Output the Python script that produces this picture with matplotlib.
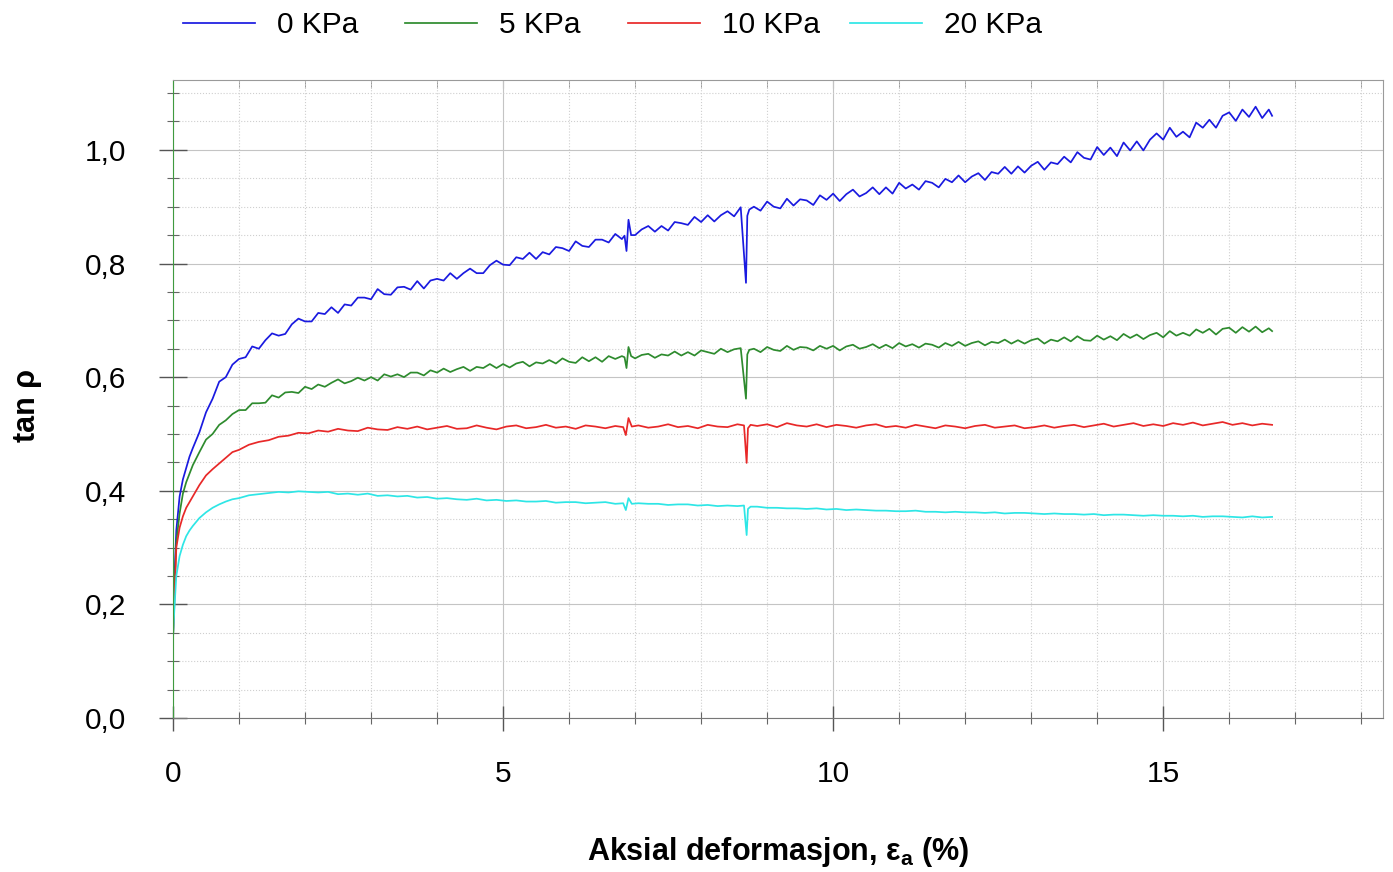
import matplotlib.pyplot as plt
from matplotlib.ticker import MultipleLocator, FuncFormatter

plt.rcParams['font.family'] = ['Liberation Sans', 'DejaVu Sans']

# aksial deformasjon (%) - dense logging used for the 0 and 5 KPa tests
strain_fine = [
    0, 0.02, 0.05, 0.1, 0.15, 0.2, 0.25, 0.3, 0.4, 0.5, 0.6, 0.7, 0.8, 0.9,
    1.0, 1.1, 1.2, 1.3, 1.4, 1.5, 1.6, 1.7, 1.8, 1.9,
    2.0, 2.1, 2.2, 2.3, 2.4, 2.5, 2.6, 2.7, 2.8, 2.9,
    3.0, 3.1, 3.2, 3.3, 3.4, 3.5, 3.6, 3.7, 3.8, 3.9,
    4.0, 4.1, 4.2, 4.3, 4.4, 4.5, 4.6, 4.7, 4.8, 4.9,
    5.0, 5.1, 5.2, 5.3, 5.4, 5.5, 5.6, 5.7, 5.8, 5.9,
    6.0, 6.1, 6.2, 6.3, 6.4, 6.5, 6.6, 6.7, 6.8,
    6.84, 6.87, 6.9, 6.94,
    7.0, 7.1, 7.2, 7.3, 7.4, 7.5, 7.6, 7.7, 7.8, 7.9, 8.0, 8.1, 8.2, 8.3, 8.4, 8.5, 8.6,
    8.68, 8.7, 8.73,
    8.8, 8.9, 9.0, 9.1, 9.2, 9.3, 9.4, 9.5, 9.6, 9.7, 9.8, 9.9,
    10.0, 10.1, 10.2, 10.3, 10.4, 10.5, 10.6, 10.7, 10.8, 10.9,
    11.0, 11.1, 11.2, 11.3, 11.4, 11.5, 11.6, 11.7, 11.8, 11.9,
    12.0, 12.1, 12.2, 12.3, 12.4, 12.5, 12.6, 12.7, 12.8, 12.9,
    13.0, 13.1, 13.2, 13.3, 13.4, 13.5, 13.6, 13.7, 13.8, 13.9,
    14.0, 14.1, 14.2, 14.3, 14.4, 14.5, 14.6, 14.7, 14.8, 14.9,
    15.0, 15.1, 15.2, 15.3, 15.4, 15.5, 15.6, 15.7, 15.8, 15.9,
    16.0, 16.1, 16.2, 16.3, 16.4, 16.5, 16.6, 16.65,
]

# coarser logging for the 10 and 20 KPa tests
strain = [
    0, 0.02, 0.05, 0.1, 0.15, 0.2, 0.25, 0.3, 0.4, 0.5, 0.6, 0.7, 0.8, 0.9,
    1.0, 1.15, 1.3, 1.45, 1.6, 1.75, 1.9, 2.05, 2.2, 2.35,
    2.5, 2.65, 2.8, 2.95, 3.1, 3.25, 3.4, 3.55, 3.7, 3.85,
    4.0, 4.15, 4.3, 4.45, 4.6, 4.75, 4.9, 5.05, 5.2, 5.35,
    5.5, 5.65, 5.8, 5.95, 6.1, 6.25, 6.4, 6.55, 6.7,
    6.82, 6.86, 6.9, 6.95,
    7.05, 7.2, 7.35, 7.5, 7.65, 7.8, 7.95, 8.1, 8.25, 8.4, 8.55, 8.65,
    8.69, 8.71, 8.75,
    8.85, 9.0, 9.15, 9.3, 9.45, 9.6, 9.75, 9.9, 10.05, 10.2,
    10.35, 10.5, 10.65, 10.8, 10.95, 11.1, 11.25, 11.4, 11.55, 11.7,
    11.85, 12.0, 12.15, 12.3, 12.45, 12.6, 12.75, 12.9, 13.05, 13.2,
    13.35, 13.5, 13.65, 13.8, 13.95, 14.1, 14.25, 14.4, 14.55, 14.7,
    14.85, 15.0, 15.15, 15.3, 15.45, 15.6, 15.75, 15.9, 16.05, 16.2,
    16.35, 16.5, 16.65,
]

tan_0kpa = [
    0.14, 0.24, 0.33, 0.39, 0.42, 0.44, 0.46, 0.475, 0.503, 0.538, 0.562, 0.592, 0.600, 0.622,
    0.632, 0.635, 0.654, 0.650, 0.665, 0.677, 0.673, 0.676, 0.693, 0.703,
    0.698, 0.698, 0.713, 0.711, 0.723, 0.713, 0.728, 0.726, 0.740, 0.740,
    0.737, 0.755, 0.746, 0.745, 0.758, 0.759, 0.754, 0.769, 0.756, 0.770,
    0.773, 0.770, 0.783, 0.773, 0.783, 0.791, 0.783, 0.783, 0.797, 0.805,
    0.798, 0.797, 0.811, 0.808, 0.819, 0.808, 0.820, 0.816, 0.829, 0.827,
    0.822, 0.839, 0.831, 0.829, 0.842, 0.842, 0.837, 0.852, 0.843,
    0.849, 0.822, 0.877, 0.850,
    0.850, 0.860, 0.866, 0.856, 0.866, 0.858, 0.873, 0.871, 0.868, 0.882,
    0.873, 0.885, 0.874, 0.885, 0.892, 0.883, 0.899,
    0.766, 0.884, 0.895,
    0.900, 0.893, 0.909, 0.900, 0.897, 0.914, 0.902, 0.913, 0.911, 0.903, 0.920, 0.912,
    0.923, 0.910, 0.922, 0.930, 0.918, 0.924, 0.934, 0.922, 0.934, 0.923,
    0.942, 0.932, 0.939, 0.930, 0.945, 0.942, 0.934, 0.949, 0.943, 0.955,
    0.943, 0.953, 0.959, 0.947, 0.961, 0.958, 0.970, 0.958, 0.971, 0.960,
    0.972, 0.979, 0.965, 0.978, 0.975, 0.988, 0.978, 0.996, 0.986, 0.983,
    1.005, 0.991, 1.004, 0.989, 1.013, 0.999, 1.015, 0.999, 1.018, 1.029,
    1.018, 1.039, 1.023, 1.032, 1.022, 1.048, 1.039, 1.053, 1.039, 1.060,
    1.066, 1.051, 1.071, 1.058, 1.076, 1.056, 1.071, 1.060,
]

tan_5kpa = [
    0.14, 0.22, 0.31, 0.36, 0.395, 0.415, 0.43, 0.445, 0.468, 0.49, 0.50, 0.516, 0.524, 0.535,
    0.542, 0.542, 0.554, 0.554, 0.555, 0.568, 0.564, 0.573, 0.574, 0.572,
    0.583, 0.579, 0.587, 0.583, 0.590, 0.596, 0.589, 0.593, 0.599, 0.594,
    0.600, 0.594, 0.605, 0.601, 0.605, 0.600, 0.608, 0.608, 0.603, 0.612,
    0.608, 0.615, 0.609, 0.614, 0.618, 0.611, 0.618, 0.616, 0.623, 0.616,
    0.623, 0.617, 0.624, 0.627, 0.619, 0.626, 0.624, 0.630, 0.624, 0.633,
    0.627, 0.625, 0.635, 0.628, 0.635, 0.627, 0.637, 0.632, 0.637,
    0.635, 0.616, 0.653, 0.637,
    0.633, 0.639, 0.641, 0.634, 0.640, 0.638, 0.645, 0.638, 0.644, 0.638,
    0.647, 0.644, 0.641, 0.650, 0.644, 0.649, 0.651,
    0.562, 0.640, 0.648,
    0.650, 0.644, 0.653, 0.648, 0.646, 0.655, 0.648, 0.653, 0.652, 0.647, 0.655, 0.650,
    0.655, 0.647, 0.654, 0.657, 0.650, 0.653, 0.658, 0.651, 0.657, 0.651,
    0.660, 0.654, 0.658, 0.652, 0.659, 0.657, 0.652, 0.660, 0.655, 0.662,
    0.655, 0.660, 0.663, 0.656, 0.662, 0.660, 0.666, 0.659, 0.665, 0.659,
    0.665, 0.668, 0.659, 0.666, 0.663, 0.670, 0.663, 0.672, 0.665, 0.664,
    0.673, 0.666, 0.672, 0.665, 0.676, 0.669, 0.675, 0.667, 0.674, 0.678,
    0.670, 0.681, 0.673, 0.678, 0.673, 0.684, 0.678, 0.685, 0.675, 0.685,
    0.687, 0.678, 0.688, 0.680, 0.689, 0.679, 0.686, 0.681,
]

tan_10kpa = [
    0.14, 0.20, 0.30, 0.335, 0.355, 0.37, 0.38, 0.39, 0.41, 0.427, 0.438, 0.448, 0.458, 0.468,
    0.472, 0.481, 0.486, 0.489, 0.495, 0.497, 0.502, 0.501, 0.506, 0.504,
    0.509, 0.506, 0.505, 0.511, 0.508, 0.507, 0.512, 0.509, 0.513, 0.508,
    0.511, 0.514, 0.509, 0.510, 0.515, 0.511, 0.508, 0.513, 0.515, 0.510,
    0.512, 0.516, 0.511, 0.513, 0.509, 0.515, 0.513, 0.510, 0.514,
    0.512, 0.498, 0.528, 0.513,
    0.515, 0.511, 0.513, 0.517, 0.512, 0.514, 0.510, 0.516, 0.513, 0.512, 0.517, 0.515,
    0.449, 0.510, 0.516,
    0.514, 0.517, 0.512, 0.519, 0.515, 0.513, 0.517, 0.512, 0.516, 0.514,
    0.511, 0.515, 0.517, 0.512, 0.514, 0.511, 0.516, 0.513, 0.510, 0.515,
    0.513, 0.510, 0.514, 0.516, 0.511, 0.513, 0.515, 0.510, 0.512, 0.515,
    0.511, 0.514, 0.516, 0.512, 0.515, 0.518, 0.513, 0.516, 0.519, 0.514,
    0.517, 0.514, 0.519, 0.516, 0.520, 0.515, 0.518, 0.521, 0.516, 0.519,
    0.515, 0.518, 0.516,
]

tan_20kpa = [
    0.14, 0.19, 0.25, 0.285, 0.305, 0.32, 0.33, 0.338, 0.352, 0.362, 0.370, 0.376, 0.381, 0.385,
    0.387, 0.392, 0.394, 0.396, 0.398, 0.397, 0.399, 0.398, 0.397, 0.398,
    0.394, 0.395, 0.393, 0.395, 0.391, 0.392, 0.390, 0.391, 0.388, 0.389,
    0.386, 0.387, 0.385, 0.384, 0.386, 0.383, 0.384, 0.382, 0.383, 0.381,
    0.381, 0.382, 0.379, 0.380, 0.380, 0.378, 0.379, 0.380, 0.377,
    0.378, 0.366, 0.387, 0.377,
    0.378, 0.377, 0.377, 0.375, 0.376, 0.376, 0.374, 0.375, 0.373, 0.374, 0.373, 0.374,
    0.322, 0.368, 0.372,
    0.372, 0.370, 0.370, 0.369, 0.369, 0.368, 0.369, 0.367, 0.368, 0.366,
    0.367, 0.366, 0.365, 0.365, 0.364, 0.364, 0.365, 0.363, 0.363, 0.362,
    0.363, 0.362, 0.362, 0.361, 0.362, 0.360, 0.361, 0.361, 0.360, 0.359,
    0.360, 0.359, 0.359, 0.358, 0.359, 0.357, 0.358, 0.358, 0.357, 0.356,
    0.357, 0.356, 0.356, 0.355, 0.356, 0.354, 0.355, 0.355, 0.354, 0.353,
    0.355, 0.353, 0.354,
]

labels = ['0 KPa', '5 KPa', '10 KPa', '20 KPa']
colors = ['#1a1ae0', '#2e8b2e', '#e82828', '#2ee6e6']
xs = [strain_fine, strain_fine, strain, strain]
series = [tan_0kpa, tan_5kpa, tan_10kpa, tan_20kpa]

fig = plt.figure(figsize=(13.93, 8.72), dpi=100)
ax = fig.add_axes([173 / 1393, 154 / 872, 1210 / 1393, 638 / 872])

lines = []
for x, y, lab, c in zip(xs, series, labels, colors):
    ln, = ax.plot(x, y, color=c, lw=1.25, label=lab)
    lines.append(ln)

ax.set_xlim(0, 18.33)
ax.set_ylim(0, 1.123)

ax.xaxis.set_major_locator(MultipleLocator(5))
ax.xaxis.set_minor_locator(MultipleLocator(1))
ax.yaxis.set_major_locator(MultipleLocator(0.2))
ax.yaxis.set_minor_locator(MultipleLocator(0.05))
ax.yaxis.set_major_formatter(FuncFormatter(lambda v, p: f'{v:.1f}'.replace('.', ',')))

ax.tick_params(axis='both', which='major', direction='inout', colors='#555555',
               labelcolor='black', labelsize=21.5, width=1)
ax.tick_params(axis='y', which='major', length=20, pad=24)
ax.tick_params(axis='x', which='major', length=18, pad=21)
ax.tick_params(axis='both', which='minor', direction='inout', length=8,
               colors='#666666', width=0.8)

# top edge carries inward ticks only
top = ax.secondary_xaxis('top')
top.xaxis.set_major_locator(MultipleLocator(5))
top.xaxis.set_minor_locator(MultipleLocator(1))
top.tick_params(which='both', direction='in', length=6, colors='#888888', labeltop=False)
top.spines['top'].set_visible(False)

ax.grid(True, which='major', color='#c4c4c4', lw=0.8, ls='-')
ax.grid(True, which='minor', color='#cfcfcf', lw=0.8, ls=':')
ax.set_axisbelow(True)

ax.spines['left'].set_color('#3f9a3f')
ax.spines['bottom'].set_color('#777777')
ax.spines['top'].set_color('#9a9a9a')
ax.spines['right'].set_color('#9a9a9a')

ax.set_xlabel(r'Aksial deformasjon, ε$_\mathregular{a}$ (%)', fontsize=22, fontweight='bold')
ax.xaxis.set_label_coords(0.5, -0.183)
ax.set_ylabel('tan ρ', fontsize=22, fontweight='bold')
ax.yaxis.set_label_coords(-0.108, 0.49)

# legend entries sit on a fixed pitch along the top
entry_left = [183, 405, 628, 850]
for ln, px in zip(lines, entry_left):
    fig.legend(handles=[ln], loc='center left', bbox_to_anchor=(px / 1393, 1 - 25 / 872),
               frameon=False, fontsize=21.5, handlelength=2.4, handletextpad=0.75,
               borderpad=0, borderaxespad=0)

fig.savefig('out.png', dpi=100, facecolor='white')
